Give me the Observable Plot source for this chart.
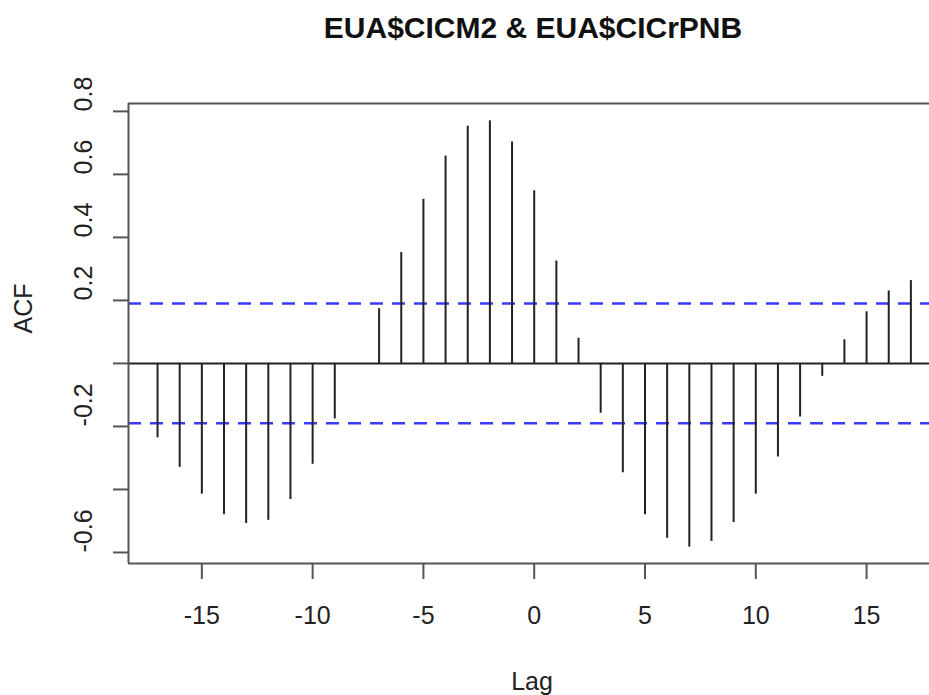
<!DOCTYPE html>
<html>
<head>
<meta charset="utf-8">
<script src="https://cdn.jsdelivr.net/npm/d3@7"></script>
<script src="https://cdn.jsdelivr.net/npm/@observablehq/plot@0.6"></script>
<style>
  html, body { margin: 0; padding: 0; background: #fff; }
  #wrap { width: 929px; height: 695px; position: relative; overflow: hidden; font-family: "Liberation Sans", Arial, sans-serif; }
  #title { position: relative; height: 60px; }
  #title span { position: absolute; left: 533px; top: 13px; transform: translateX(-50%); font-size: 30px; line-height: 30px; font-weight: bold; color: #111; white-space: nowrap; }
  svg { display: block; }
</style>
</head>
<body>
<div id="wrap">
  <div id="title"><span>EUA$CICM2 &amp; EUA$CICrPNB</span></div>
  <div id="chart"></div>
</div>
<script>
const lags = [-17,-16,-15,-14,-13,-12,-11,-10,-9,-8,-7,-6,-5,-4,-3,-2,-1,0,1,2,3,4,5,6,7,8,9,10,11,12,13,14,15,16,17];
const acf  = [-0.236,-0.330,-0.415,-0.480,-0.508,-0.498,-0.432,-0.320,-0.176,0.000,0.174,0.352,0.521,0.658,0.753,0.770,0.703,0.548,0.325,0.080,-0.158,-0.347,-0.480,-0.555,-0.583,-0.565,-0.505,-0.415,-0.297,-0.170,-0.041,0.075,0.164,0.230,0.263];
const ciLevels = [0.19, -0.19];
const xTicks = [-15,-10,-5,0,5,10,15];
const yTicks = [-0.6,-0.4,-0.2,0,0.2,0.4,0.6,0.8];
const yLabels = ["-0.6","-0.2","0.2","0.4","0.6","0.8"];
const xDomain = [-18.31, 17.84];
const yDomain = [-0.635, 0.825];

const data = lags.map((l, i) => ({lag: l, acf: acf[i]}));
const font = "'Liberation Sans', Arial, sans-serif";

const chart = Plot.plot({
  width: 929,
  height: 635,
  marginLeft: 128,
  marginRight: 0,
  marginTop: 43,
  marginBottom: 132,
  style: {fontFamily: font, background: "#fff"},
  x: {domain: xDomain},
  y: {domain: yDomain},
  marks: [
    Plot.ruleY(ciLevels, {stroke: "#3a3aff", strokeWidth: 2.5, strokeDasharray: "13,9"}),
    Plot.ruleY([0], {stroke: "#222", strokeWidth: 2}),
    Plot.ruleX(data, {x: "lag", y1: 0, y2: "acf", stroke: "#222", strokeWidth: 2}),
    Plot.ruleY([yDomain[0], yDomain[1]], {stroke: "#555", strokeWidth: 2}),
    Plot.ruleX([xDomain[0]], {stroke: "#555", strokeWidth: 2}),
    Plot.axisY({ticks: yTicks, tickSize: 15, tickFormat: () => "", label: null, stroke: "#555", strokeWidth: 2}),
    Plot.axisX({ticks: xTicks, tickSize: 16, tickFormat: () => "", label: null, stroke: "#555", strokeWidth: 2}),
    Plot.text(xTicks, {x: d => d, frameAnchor: "bottom", dy: 52, text: d => String(d), fontSize: 25, fill: "#222", lineAnchor: "middle"}),
    Plot.text(yLabels, {y: d => +d, frameAnchor: "left", dx: -45, text: d => d, rotate: -90, fontSize: 25, fill: "#222", lineAnchor: "middle"}),
    Plot.text(["Lag"], {frameAnchor: "bottom", dx: 3, dy: 118, text: d => d, fontSize: 25, fill: "#222", lineAnchor: "middle"}),
    Plot.text(["ACF"], {frameAnchor: "left", dx: -105, text: d => d, rotate: -90, fontSize: 25, fill: "#222", lineAnchor: "middle"})
  ]
});
document.getElementById("chart").appendChild(chart);
</script>
</body>
</html>
